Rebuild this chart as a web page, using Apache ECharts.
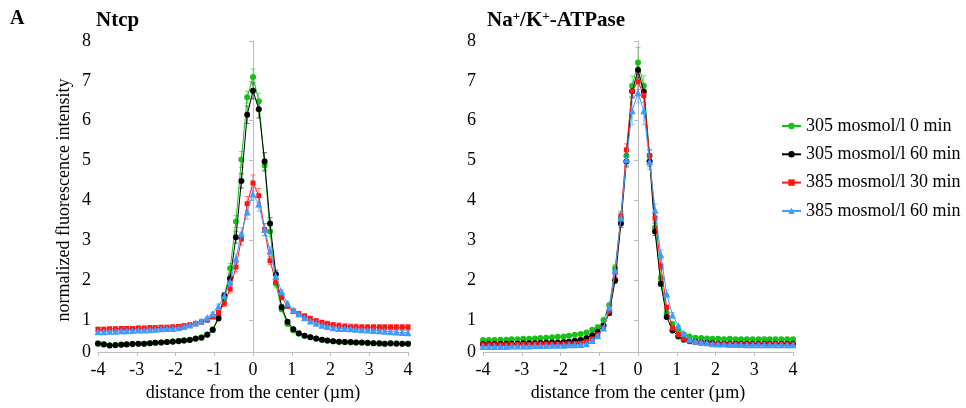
<!DOCTYPE html>
<html><head><meta charset="utf-8">
<script src="https://cdn.jsdelivr.net/npm/echarts@6/dist/echarts.min.js"></script>
<style>html,body{margin:0;padding:0;background:#fff}#c{width:966px;height:408px}</style>
</head><body><div id="c"></div>
<script>
// distance from the center (µm)
const X = [-4.00,-3.85,-3.70,-3.55,-3.40,-3.26,-3.11,-2.96,-2.81,-2.66,-2.52,-2.37,-2.22,-2.07,-1.92,-1.78,-1.63,-1.48,-1.33,-1.18,-1.04,-0.89,-0.74,-0.59,-0.44,-0.30,-0.15,0,0.15,0.30,0.44,0.59,0.74,0.89,1.04,1.18,1.33,1.48,1.63,1.78,1.92,2.07,2.22,2.37,2.52,2.66,2.81,2.96,3.11,3.26,3.40,3.55,3.70,3.85,4.00];
const xTicks = [-4,-3,-2,-1,0,1,2,3,4];
// y tick positions; the axis of the original starts just above 0 (labelled "0")
const yTickValues = [0.2,1,2,3,4,5,6,7,8];
const yTickLabels = ['0','1','2','3','4','5','6','7','8'];
const seriesNames = ['305 mosmol/l 0 min','305 mosmol/l 60 min','385 mosmol/l 30 min','385 mosmol/l 60 min'];

// Ntcp
const ntcp_305_0 = [0.42,0.40,0.37,0.38,0.39,0.40,0.41,0.41,0.41,0.42,0.43,0.44,0.45,0.47,0.48,0.49,0.51,0.54,0.57,0.64,0.77,1.08,1.55,2.30,3.47,5.03,6.59,7.10,6.49,4.88,3.22,1.91,1.27,0.90,0.74,0.66,0.61,0.57,0.53,0.50,0.48,0.47,0.46,0.45,0.44,0.44,0.43,0.42,0.42,0.41,0.41,0.41,0.42,0.41,0.41];
const ntcp_305_60 = [0.41,0.39,0.36,0.37,0.38,0.39,0.40,0.41,0.41,0.42,0.43,0.44,0.45,0.46,0.47,0.49,0.50,0.53,0.56,0.63,0.75,1.04,1.61,2.05,3.08,4.49,6.15,6.75,6.29,4.98,3.42,2.15,1.32,0.96,0.77,0.67,0.61,0.57,0.54,0.51,0.49,0.47,0.46,0.45,0.45,0.44,0.44,0.43,0.42,0.42,0.41,0.42,0.41,0.41,0.41];
const ntcp_385_30 = [0.77,0.77,0.78,0.78,0.79,0.79,0.79,0.80,0.80,0.81,0.81,0.82,0.82,0.83,0.84,0.86,0.88,0.91,0.95,1.00,1.08,1.19,1.42,1.78,2.33,3.03,3.92,4.44,4.12,3.27,2.49,1.96,1.57,1.35,1.22,1.16,1.10,1.04,0.98,0.94,0.91,0.88,0.86,0.84,0.83,0.83,0.82,0.82,0.82,0.82,0.82,0.82,0.82,0.82,0.82];
const ntcp_385_60 = [0.71,0.71,0.72,0.72,0.73,0.73,0.74,0.75,0.75,0.76,0.77,0.78,0.79,0.79,0.81,0.84,0.88,0.93,0.98,1.06,1.16,1.35,1.61,1.96,2.54,3.17,3.71,4.16,3.91,3.27,2.74,2.10,1.71,1.42,1.25,1.15,1.06,0.98,0.92,0.87,0.84,0.81,0.79,0.79,0.78,0.77,0.76,0.75,0.74,0.73,0.72,0.71,0.70,0.69,0.68];
const ntcp_305_0_err = [0.02,0.02,0.02,0.02,0.02,0.02,0.02,0.02,0.02,0.02,0.02,0.02,0.02,0.02,0.02,0.02,0.02,0.02,0.02,0.02,0.02,0.05,0.08,0.12,0.15,0.20,0.15,0.20,0.20,0.15,0.12,0.10,0.06,0.04,0.02,0.02,0.02,0.02,0.02,0.02,0.02,0.02,0.02,0.02,0.02,0.02,0.02,0.02,0.02,0.02,0.02,0.02,0.02,0.02,0.02];
const ntcp_305_60_err = [0.02,0.02,0.02,0.02,0.02,0.02,0.02,0.02,0.02,0.02,0.02,0.02,0.02,0.02,0.02,0.02,0.02,0.02,0.02,0.02,0.02,0.05,0.08,0.10,0.15,0.18,0.22,0.20,0.22,0.22,0.15,0.10,0.06,0.04,0.02,0.02,0.02,0.02,0.02,0.02,0.02,0.02,0.02,0.02,0.02,0.02,0.02,0.02,0.02,0.02,0.02,0.02,0.02,0.02,0.02];
const ntcp_385_30_err = [0.05,0.05,0.05,0.05,0.05,0.05,0.05,0.05,0.05,0.05,0.05,0.05,0.05,0.05,0.05,0.05,0.05,0.05,0.05,0.05,0.05,0.06,0.08,0.10,0.12,0.15,0.18,0.20,0.18,0.15,0.10,0.08,0.06,0.06,0.06,0.06,0.06,0.06,0.06,0.06,0.06,0.06,0.07,0.07,0.07,0.07,0.07,0.07,0.07,0.07,0.07,0.07,0.07,0.07,0.07];
const ntcp_385_60_err = [0.04,0.04,0.04,0.04,0.04,0.04,0.04,0.04,0.04,0.04,0.04,0.04,0.04,0.04,0.04,0.04,0.04,0.04,0.04,0.04,0.04,0.05,0.07,0.10,0.12,0.15,0.18,0.15,0.18,0.15,0.10,0.08,0.06,0.05,0.05,0.05,0.05,0.05,0.05,0.05,0.05,0.05,0.05,0.05,0.05,0.05,0.05,0.05,0.05,0.05,0.05,0.05,0.05,0.05,0.05];

// Na+/K+-ATPase
const atp_305_0 = [0.50,0.50,0.50,0.51,0.51,0.52,0.52,0.53,0.53,0.54,0.55,0.56,0.57,0.58,0.59,0.61,0.63,0.65,0.69,0.76,0.82,1.00,1.37,2.30,3.56,5.12,6.87,7.46,6.88,5.12,3.32,2.05,1.18,0.90,0.74,0.64,0.59,0.56,0.55,0.54,0.53,0.53,0.52,0.53,0.52,0.52,0.52,0.52,0.52,0.52,0.52,0.52,0.52,0.52,0.52];
const atp_305_60 = [0.40,0.40,0.40,0.41,0.41,0.41,0.41,0.42,0.42,0.42,0.43,0.43,0.44,0.44,0.45,0.46,0.48,0.50,0.55,0.62,0.71,0.86,1.18,2.00,3.42,4.98,6.74,7.27,6.73,4.98,3.22,1.91,1.08,0.74,0.59,0.51,0.47,0.46,0.44,0.43,0.42,0.41,0.41,0.41,0.41,0.41,0.41,0.41,0.41,0.41,0.41,0.41,0.41,0.41,0.41];
const atp_385_30 = [0.38,0.38,0.38,0.38,0.38,0.39,0.39,0.39,0.39,0.40,0.40,0.40,0.40,0.40,0.40,0.41,0.41,0.42,0.46,0.53,0.63,0.80,1.22,2.20,3.61,5.27,6.74,6.98,6.64,5.12,3.56,2.35,1.32,0.80,0.64,0.52,0.47,0.45,0.43,0.41,0.40,0.40,0.40,0.40,0.40,0.40,0.40,0.40,0.40,0.40,0.40,0.40,0.40,0.40,0.40];
const atp_385_60 = [0.34,0.34,0.34,0.34,0.34,0.35,0.35,0.35,0.35,0.36,0.36,0.36,0.37,0.37,0.37,0.38,0.38,0.39,0.41,0.49,0.61,0.80,1.32,2.25,3.56,5.03,6.25,6.70,6.25,4.98,3.76,2.64,1.66,1.13,0.86,0.67,0.52,0.47,0.45,0.43,0.41,0.40,0.40,0.39,0.39,0.39,0.38,0.38,0.38,0.38,0.38,0.38,0.38,0.38,0.38];
const atp_305_0_err = [0.02,0.02,0.02,0.02,0.02,0.02,0.02,0.02,0.02,0.02,0.02,0.02,0.02,0.02,0.02,0.02,0.02,0.02,0.02,0.02,0.02,0.04,0.06,0.10,0.12,0.15,0.25,0.38,0.25,0.15,0.10,0.08,0.05,0.03,0.02,0.02,0.02,0.02,0.02,0.02,0.02,0.02,0.02,0.02,0.02,0.02,0.02,0.02,0.02,0.02,0.02,0.02,0.02,0.02,0.02];
const atp_305_60_err = [0.02,0.02,0.02,0.02,0.02,0.02,0.02,0.02,0.02,0.02,0.02,0.02,0.02,0.02,0.02,0.02,0.02,0.02,0.02,0.02,0.02,0.03,0.05,0.08,0.10,0.12,0.15,0.20,0.15,0.12,0.10,0.06,0.04,0.03,0.02,0.02,0.02,0.02,0.02,0.02,0.02,0.02,0.02,0.02,0.02,0.02,0.02,0.02,0.02,0.02,0.02,0.02,0.02,0.02,0.02];
const atp_385_30_err = [0.02,0.02,0.02,0.02,0.02,0.02,0.02,0.02,0.02,0.02,0.02,0.02,0.02,0.02,0.02,0.02,0.02,0.02,0.02,0.02,0.02,0.04,0.06,0.10,0.12,0.15,0.18,0.20,0.18,0.15,0.12,0.08,0.06,0.04,0.02,0.02,0.02,0.02,0.02,0.02,0.02,0.02,0.02,0.02,0.02,0.02,0.02,0.02,0.02,0.02,0.02,0.02,0.02,0.02,0.02];
const atp_385_60_err = [0.02,0.02,0.02,0.02,0.02,0.02,0.02,0.02,0.02,0.02,0.02,0.02,0.02,0.02,0.02,0.02,0.02,0.02,0.02,0.02,0.02,0.05,0.08,0.12,0.15,0.20,0.35,0.25,0.35,0.20,0.15,0.12,0.10,0.06,0.02,0.02,0.02,0.02,0.02,0.02,0.02,0.02,0.02,0.02,0.02,0.02,0.02,0.02,0.02,0.02,0.02,0.02,0.02,0.02,0.02];

const colors = ['#17c217','#000000','#ff1414','#3d9cff'];
const errColors = ['rgba(23,194,23,0.55)','rgba(0,0,0,0.55)','rgba(255,20,20,0.55)','rgba(61,156,255,0.55)'];
const symbols = ['circle','circle','rect','triangle'];
const symSizes = [6,6,5,7];
const FONT = '"Liberation Serif","Times New Roman",serif';

const panels = [
  {vals:[ntcp_305_0,ntcp_305_60,ntcp_385_30,ntcp_385_60], errs:[ntcp_305_0_err,ntcp_305_60_err,ntcp_385_30_err,ntcp_385_60_err]},
  {vals:[atp_305_0,atp_305_60,atp_385_30,atp_385_60], errs:[atp_305_0_err,atp_305_60_err,atp_385_30_err,atp_385_60_err]}
];

function errRender(color){
  return function(params, api){
    const x = api.value(0), lo = api.value(1), hi = api.value(2);
    const a = api.coord([x, hi]), b = api.coord([x, lo]);
    const w = 2.5;
    const st = {stroke: color, lineWidth: 1};
    return {type:'group', children:[
      {type:'line', shape:{x1:a[0],y1:a[1],x2:b[0],y2:b[1]}, style:st},
      {type:'line', shape:{x1:a[0]-w,y1:a[1],x2:a[0]+w,y2:a[1]}, style:st},
      {type:'line', shape:{x1:b[0]-w,y1:b[1],x2:b[0]+w,y2:b[1]}, style:st}
    ]};
  };
}

const series = [];
panels.forEach((p, gi) => {
  p.vals.forEach((v, si) => {
    series.push({
      type:'custom', xAxisIndex:gi, yAxisIndex:gi, silent:true, z:1,
      renderItem: errRender(errColors[si]),
      data: X.map((x,i)=>[x, v[i]-p.errs[si][i], v[i]+p.errs[si][i]])
    });
  });
  p.vals.forEach((v, si) => {
    series.push({
      type:'line', name: seriesNames[si], xAxisIndex:gi, yAxisIndex:gi, z:2+si,
      data: X.map((x,i)=>[x, v[i]]),
      symbol: symbols[si], symbolSize: symSizes[si], showSymbol:true,
      itemStyle:{color: colors[si]},
      lineStyle:{color: colors[si], width:1},
      animation:false
    });
  });
});

function xAx(gi){
  return {type:'value', gridIndex:gi, min:-4, max:4, interval:1,
    axisLine:{lineStyle:{color:'#bdbdbd'}}, axisTick:{show:true, length:4, lineStyle:{color:'#bdbdbd'}},
    splitLine:{show:false},
    axisLabel:{color:'#000', fontFamily:FONT, fontSize:18, margin:9,
      formatter: v => (xTicks.indexOf(v) >= 0 ? String(v) : '')}};
}
function yAx(gi){
  return {type:'value', gridIndex:gi, min:0.2, max:8,
    axisLine:{show:true, lineStyle:{color:'#bdbdbd'}},
    axisTick:{show:true, length:4, lineStyle:{color:'#bdbdbd'}, customValues: yTickValues},
    splitLine:{show:false},
    axisLabel:{color:'#000', fontFamily:FONT, fontSize:18, margin:7, customValues: yTickValues,
      formatter: v => { const k = yTickValues.indexOf(v); return k >= 0 ? yTickLabels[k] : ''; }}};
}

const chart = echarts.init(document.getElementById('c'), null, {renderer:'canvas'});
chart.setOption({
  animation:false,
  backgroundColor:'#fff',
  grid:[
    {left:98, right:966-408, top:41, bottom:408-352},
    {left:483, right:966-793, top:41, bottom:408-352}
  ],
  xAxis:[xAx(0), xAx(1)],
  yAxis:[yAx(0), yAx(1)],
  legend:{
    orient:'vertical', left:781, top:117, padding:0, itemGap:10.3, itemWidth:19, itemHeight:8,
    data: seriesNames,
    textStyle:{fontFamily:FONT, fontSize:18, color:'#000', lineHeight:18},
    selectedMode:false
  },
  graphic:[
    {type:'text', left:10, top:9, style:{text:'A', font:'bold 20px '+FONT, fill:'#000'}},
    {type:'text', left:96, top:10, style:{text:'Ntcp', font:'bold 21px '+FONT, fill:'#000'}},
    {type:'text', left:487, top:10, style:{
      text:'{b|Na}{s|+}{b|/K}{s|+}{b|-ATPase}',
      rich:{
        b:{fontFamily:FONT, fontWeight:'bold', fontSize:21, fill:'#000', color:'#000', verticalAlign:'bottom'},
        s:{fontFamily:FONT, fontWeight:'bold', fontSize:13, fill:'#000', color:'#000', verticalAlign:'top', padding:[0,0,8,0]}
      }}},
    {type:'text', x:64, y:200, rotation:Math.PI/2, style:{text:'normalized fluorescence intensity', font:'18px '+FONT, fill:'#000', align:'center', verticalAlign:'middle'}},
    {type:'text', x:253, y:393, style:{text:'distance from the center (\u00b5m)', font:'18px '+FONT, fill:'#000', align:'center', verticalAlign:'middle'}},
    {type:'text', x:638, y:393, style:{text:'distance from the center (\u00b5m)', font:'18px '+FONT, fill:'#000', align:'center', verticalAlign:'middle'}}
  ],
  series: series
});
</script>
</body></html>
